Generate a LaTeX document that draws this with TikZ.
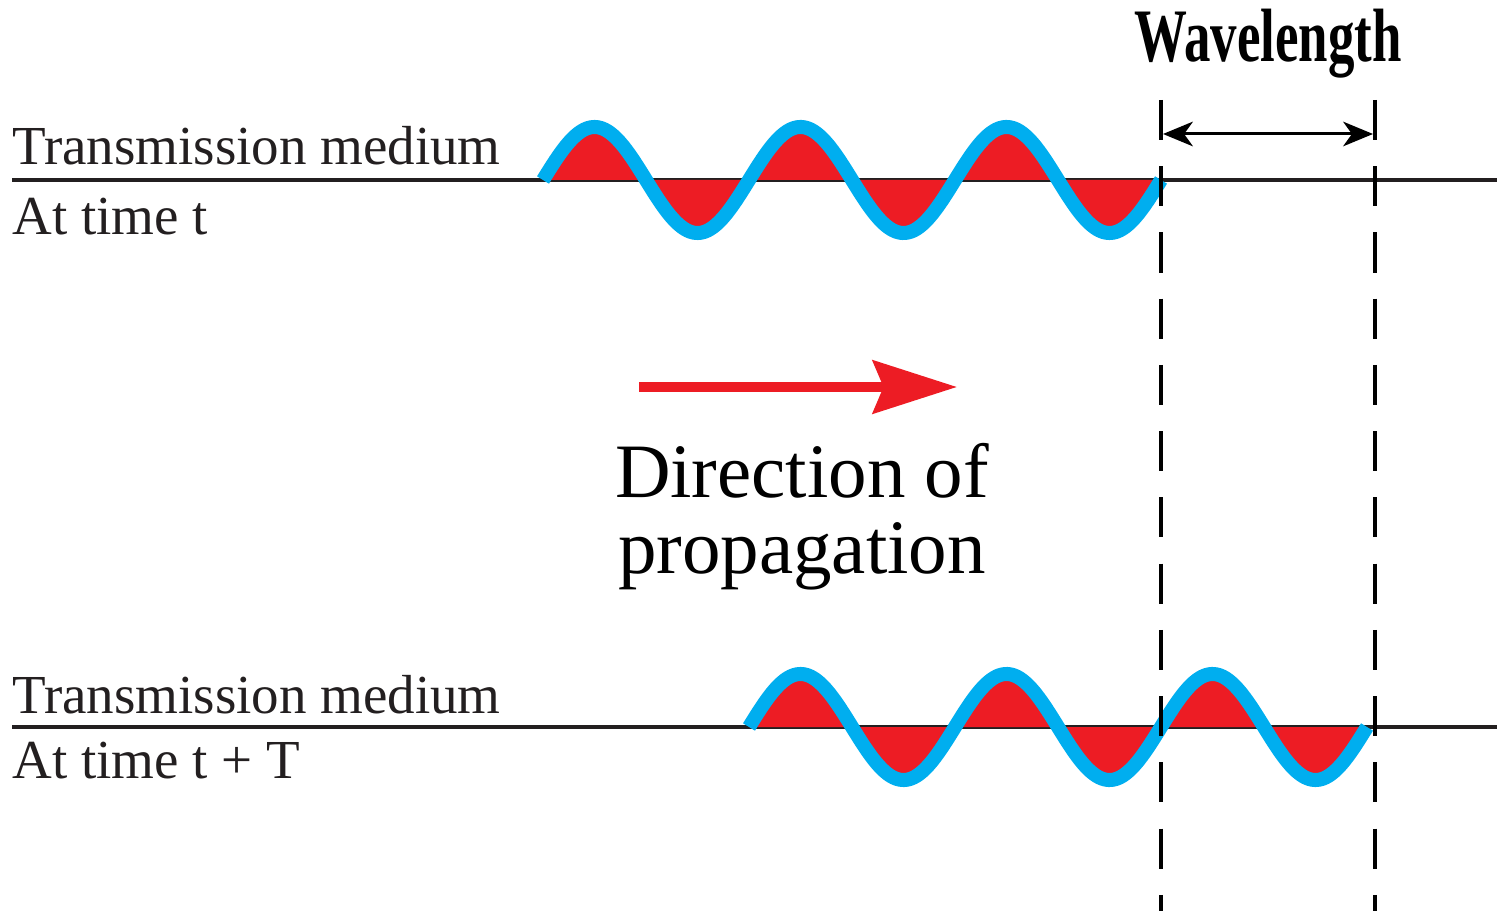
\documentclass[tikz,border=0pt]{standalone}
\usepackage{fontspec}
\setmainfont{Liberation Serif}
\usetikzlibrary{arrows.meta}
\definecolor{wavered}{HTML}{ED1C24}
\definecolor{waveblue}{HTML}{00AEEF}
\definecolor{ink}{HTML}{231F20}
\begin{document}
\begin{tikzpicture}[x=0.02cm,y=-0.02cm,
  medium/.style={draw=ink, line width=1.8pt},
  wavefill/.style={fill=wavered},
  waveline/.style={draw=waveblue, line width=8pt, line cap=butt},
  guide/.style={draw=black, line width=2.3pt, dash pattern=on 22.8pt off 14.9pt},
  lbl/.style={inner sep=0pt, anchor=base west, text=ink, font=\fontsize{31.3pt}{37pt}\selectfont},
  big/.style={inner sep=0pt, anchor=base, text=black, font=\fontsize{43.8pt}{50pt}\selectfont},
  wltext/.style={inner sep=0pt, anchor=base, text=black, font=\bfseries\fontsize{43pt}{50pt}\selectfont},
  propagation/.style={draw=wavered, line width=5.7pt, -{Stealth[length=47.8pt,width=30pt,inset=6pt]}},
  span/.style={draw=black, line width=1.7pt, {Stealth[length=17pt,width=14pt,inset=5pt]}-{Stealth[length=17pt,width=14pt,inset=5pt]}}
]
\useasboundingbox (0,0) rectangle (1497,911);

% coordinates
\coordinate (m1a) at (12,180);
\coordinate (m1b) at (1497,180);
\coordinate (m2a) at (12,727);
\coordinate (m2b) at (1497,727);
\coordinate (d1a) at (1161,100);
\coordinate (d1b) at (1161,911);
\coordinate (d2a) at (1375,100);
\coordinate (d2b) at (1375,911);
\coordinate (wa) at (1163,134);
\coordinate (wb) at (1373,134);
\coordinate (rs) at (639,387);
\coordinate (re) at (957,387);

% transmission medium lines
\draw[medium] (m1a) -- (m1b);
\draw[medium] (m2a) -- (m2b);

% top wave (time t)
\fill[wavefill] plot[domain=0:1080, samples=300, variable=\t] ({543+\t*0.57222},{180-53*sin(\t)}) -- cycle;
\draw[waveline] plot[domain=0:1080, samples=300, variable=\t] ({543+\t*0.57222},{180-53*sin(\t)});

% bottom wave (time t + T)
\fill[wavefill] plot[domain=0:1080, samples=300, variable=\t] ({749+\t*0.57222},{727-53*sin(\t)}) -- cycle;
\draw[waveline] plot[domain=0:1080, samples=300, variable=\t] ({749+\t*0.57222},{727-53*sin(\t)});

% dashed guide lines
\draw[guide] (d1a) -- (d1b);
\draw[guide] (d2a) -- (d2b);

% wavelength arrow
\draw[span] (wa) -- (wb);

% direction arrow
\draw[propagation] (rs) -- (re);

% labels
\node[lbl] (tm1) at (12,165) {Transmission medium};
\node[lbl] (at1) at (12,235) {At time t};
\node[lbl] (tm2) at (12,713) {Transmission medium};
\node[lbl] (at2) at (12,778) {At time t + T};
\node[big, text depth=0pt] (dir1) at (802,498) {Direction of};
\node[big, text height=0.4em] (dir2) at (802,574) {propagation};
\node[wltext] (wl) at (1268,62) {\scalebox{0.70}[1]{Wavelength}};
\end{tikzpicture}
\end{document}
